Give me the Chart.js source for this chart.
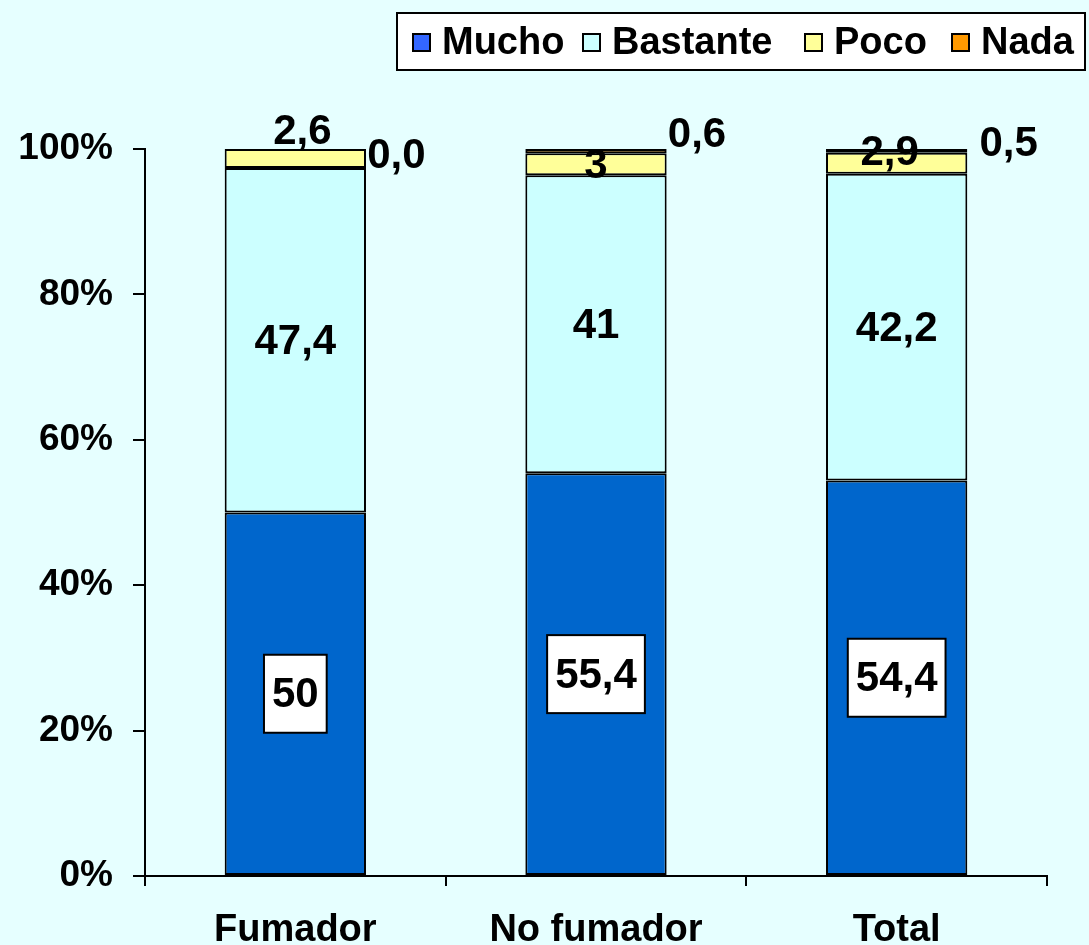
<!DOCTYPE html>
<html>
<head>
<meta charset="utf-8">
<script src="https://cdn.jsdelivr.net/npm/chart.js@4.4.1/dist/chart.umd.min.js"></script>
<style>
  html, body { margin: 0; padding: 0; background: #E6FFFF; }
  #wrap { width: 1089px; height: 945px; }
</style>
</head>
<body>
<div id="wrap"><canvas id="grafica" width="1089" height="945"></canvas></div>
<script>
// datos
const categorias = ['Fumador', 'No fumador', 'Total'];
const series = ['Mucho', 'Bastante', 'Poco', 'Nada'];
const mucho = [50, 55.4, 54.4];
const bastante = [47.4, 41, 42.2];
const poco = [2.6, 3, 2.9];
const nada = [0, 0.6, 0.5];
// texto de las etiquetas tal como aparece en el gráfico
const etiquetasMucho = ['50', '55,4', '54,4'];
const etiquetasBastante = ['47,4', '41', '42,2'];
const etiquetasPoco = ['2,6', '3', '2,9'];
const etiquetasNada = ['0,0', '0,6', '0,5'];
const ticksY = [0, 20, 40, 60, 80, 100];

const colores = ['#0066CC', '#CCFFFF', '#FFFF99', '#FF9900'];
const coloresLeyenda = ['#3366FF', '#CCFFFF', '#FFFF99', '#FF9900'];
const fuente = '"Liberation Sans", Arial, sans-serif';

const valores = [mucho, bastante, poco, nada];
const etiquetas = [etiquetasMucho, etiquetasBastante, etiquetasPoco, etiquetasNada];

// desplazamientos de etiqueta respecto al centro del segmento [dx, dy]
const desplazamientos = [
    [[0, 0], [0, 0], [0, 0]],
    [[0, 0], [0, 0], [0, 0]],
    [[7, -28], [0, 0], [-7, -12]],
    [[101, 5], [101, -18], [112, -8]]
];

const fondo = {
    id: 'fondo',
    beforeDraw(chart) {
        const c = chart.ctx;
        c.save();
        c.fillStyle = '#E6FFFF';
        c.fillRect(0, 0, chart.width, chart.height);
        c.restore();
    }
};

const etiquetasPlugin = {
    id: 'etiquetas',
    afterDatasetsDraw(chart) {
        const c = chart.ctx;
        c.save();
        c.font = 'bold 42px ' + fuente;
        c.textAlign = 'center';
        c.textBaseline = 'middle';
        chart.data.datasets.forEach((ds, i) => {
            const meta = chart.getDatasetMeta(i);
            meta.data.forEach((bar, j) => {
                const x = bar.x + desplazamientos[i][j][0];
                const y = (bar.y + bar.base) / 2 + desplazamientos[i][j][1];
                const txt = etiquetas[i][j];
                if (i === 0) {
                    const w = c.measureText(txt).width + 16;
                    const h = 78;
                    c.fillStyle = '#FFFFFF';
                    c.fillRect(x - w / 2, y - h / 2, w, h);
                    c.strokeStyle = '#000';
                    c.lineWidth = 2;
                    c.strokeRect(x - w / 2, y - h / 2, w, h);
                }
                c.fillStyle = '#000';
                c.fillText(txt, x, y + 2);
            });
        });
        c.restore();
    }
};

const leyenda = {
    id: 'leyenda',
    afterDraw(chart) {
        const c = chart.ctx;
        c.save();
        c.fillStyle = '#FFFFFF';
        c.fillRect(397, 13, 688, 57);
        c.strokeStyle = '#000';
        c.lineWidth = 2;
        c.strokeRect(397, 13, 688, 57);
        c.font = 'bold 38px ' + fuente;
        c.textBaseline = 'middle';
        c.textAlign = 'left';
        const xs = [413, 583, 805, 952];
        series.forEach((s, i) => {
            c.fillStyle = coloresLeyenda[i];
            c.fillRect(xs[i], 34, 17, 17);
            c.strokeStyle = '#000';
            c.lineWidth = 2;
            c.strokeRect(xs[i], 34, 17, 17);
            c.fillStyle = '#000';
            c.fillText(s, xs[i] + 29, 44);
        });
        c.restore();
    }
};

const ctx = document.getElementById('grafica').getContext('2d');
const grafica = new Chart(ctx, {
    type: 'bar',
    data: {
        labels: categorias,
        datasets: series.map((s, i) => ({
            label: s,
            data: valores[i],
            backgroundColor: colores[i],
            borderColor: '#000',
            borderWidth: 2,
            borderSkipped: false,
            categoryPercentage: 1,
            barPercentage: 0.47
        }))
    },
    options: {
        responsive: false,
        animation: false,
        layout: { padding: { top: 149, right: 42, left: 0, bottom: 0 } },
        plugins: { legend: { display: false }, tooltip: { enabled: false } },
        scales: {
            x: {
                stacked: true,
                grid: { offset: true, drawOnChartArea: false, tickLength: 10, color: '#000', lineWidth: 2 },
                border: { color: '#000', width: 2 },
                ticks: { color: '#000', font: { family: fuente, size: 38, weight: 'bold' }, padding: 22 },
                afterFit(scale) { scale.height = 69; }
            },
            y: {
                stacked: true,
                min: 0,
                max: 100,
                afterBuildTicks(scale) { scale.ticks = ticksY.map(v => ({ value: v })); },
                grid: { drawOnChartArea: false, tickLength: 12, color: '#000', lineWidth: 2 },
                border: { color: '#000', width: 2 },
                ticks: {
                    color: '#000',
                    font: { family: fuente, size: 37, weight: 'bold' },
                    padding: 20,
                    callback: v => v + '%'
                },
                afterFit(scale) { scale.width = 145; }
            }
        }
    },
    plugins: [fondo, etiquetasPlugin, leyenda]
});
</script>
</body>
</html>
